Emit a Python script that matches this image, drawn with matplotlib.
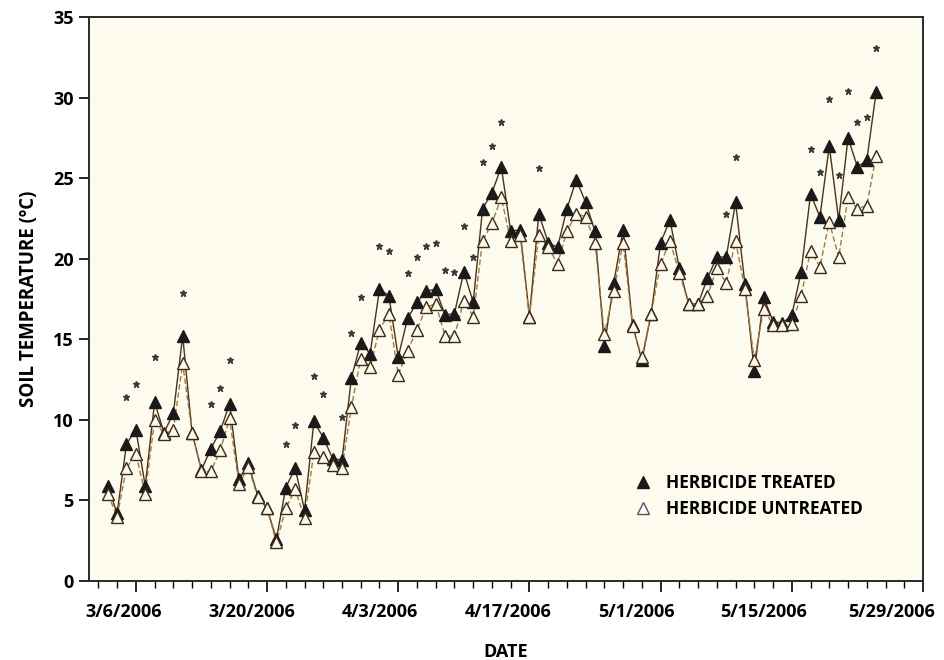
import matplotlib
matplotlib.use('Agg')
import matplotlib.pyplot as plt
import matplotlib.dates as mdates
from matplotlib.lines import Line2D
import numpy as np
import pandas as pd

plt.rcParams['font.family'] = ['Open Sans', 'DejaVu Sans']
plt.rcParams['font.weight'] = 'bold'

###daily soil temperature, 3/3/2006 - 5/24/2006###
dates = pd.date_range('2006-03-03', '2006-05-24', freq='D')

treated = [5.9, 4.2, 8.5, 9.4, 5.9, 11.1, 9.2, 10.4, 15.2, 9.2, 6.9, 8.2, 9.3, 11.0, 6.3,
           7.3, 5.3, 4.5, 2.6, 5.8, 7.0, 4.4, 9.9, 8.9, 7.6, 7.5, 12.6, 14.8, 14.1,
           18.1, 17.7, 13.9, 16.3, 17.3, 18.0, 18.1, 16.5, 16.6, 19.2, 17.3, 23.1, 24.1, 25.7, 21.7,
           21.8, 16.4, 22.8, 21.0, 20.7, 23.1, 24.9, 23.5, 21.7, 14.6, 18.5, 21.8, 15.9, 13.7, 16.6,
           21.0, 22.4, 19.4, 17.2, 17.2, 18.8, 20.1, 20.1, 23.5, 18.4, 13.05, 17.6, 16.1, 16.0,
           16.5, 19.2, 24.0, 22.6, 27.0, 22.4, 27.5, 25.7, 26.1, 30.35]

untreated = [5.4, 4.0, 7.0, 7.9, 5.4, 10.0, 9.1, 9.4, 13.5, 9.2, 6.8, 6.8, 8.1, 10.1, 6.0,
             7.1, 5.2, 4.5, 2.4, 4.5, 5.7, 3.9, 8.0, 7.7, 7.2, 7.0, 10.8, 13.8, 13.3,
             15.6, 16.6, 12.8, 14.3, 15.6, 17.0, 17.2, 15.2, 15.2, 17.4, 16.4, 21.1, 22.2, 23.8, 21.1,
             21.5, 16.4, 21.5, 20.7, 19.7, 21.7, 22.8, 22.6, 21.0, 15.3, 18.0, 21.0, 15.8, 13.9, 16.6,
             19.7, 21.1, 19.1, 17.2, 17.2, 17.7, 19.4, 18.5, 21.1, 18.1, 13.7, 16.9, 15.9, 15.9,
             15.95, 17.7, 20.5, 19.5, 22.3, 20.1, 23.8, 23.1, 23.3, 26.4]

###asterisks (significant difference) - date and height###
star_dates = pd.to_datetime(['2006-03-05', '2006-03-06', '2006-03-08', '2006-03-11', '2006-03-14',
                             '2006-03-15', '2006-03-16', '2006-03-22', '2006-03-23', '2006-03-25',
                             '2006-03-26', '2006-03-28', '2006-03-29', '2006-03-30', '2006-04-01',
                             '2006-04-02', '2006-04-04', '2006-04-05', '2006-04-06', '2006-04-07',
                             '2006-04-08', '2006-04-09', '2006-04-10', '2006-04-11', '2006-04-12',
                             '2006-04-13', '2006-04-14', '2006-04-18', '2006-05-08', '2006-05-09',
                             '2006-05-17', '2006-05-18', '2006-05-19', '2006-05-20', '2006-05-21',
                             '2006-05-22', '2006-05-23', '2006-05-24'])
star_y = [11.4, 12.2, 13.9, 17.9, 11.0, 12.0, 13.7, 8.5, 9.7, 12.7, 11.6, 10.2, 15.4, 17.6, 20.8,
          20.5, 19.1, 20.1, 20.8, 21.0, 19.3, 19.2, 22.0, 20.1, 26.0, 27.0, 28.5, 25.6, 22.8, 26.3,
          26.8, 25.4, 29.9, 25.2, 30.4, 28.5, 28.8, 33.1]

label_dates = pd.date_range('2006-03-06', '2006-05-29', freq='14D')

fig = plt.figure(figsize=(9.45, 6.6), dpi=100)
ax = fig.add_axes([89/945, 1-581/660, (923-89)/945, (581-17)/660])
ax.set_facecolor('#fdfbee')

###lines and markers###
ax.plot(dates, treated, '-', color='#4a3318', lw=1.0, zorder=2)
ax.plot(dates, untreated, '--', color='#a07a44', lw=1.0, dashes=(4, 2), zorder=2)
ax.plot(dates, treated, '^', ms=8, mfc='#1a1a1a', mec='#1a1a1a', zorder=3)
ax.plot(dates, untreated, '^', ms=8, mfc='#fdf9ea', mec='#3a2a18', mew=1.0, zorder=4)
ax.plot(star_dates, star_y, '*', ms=5, color='#3a3a3a', zorder=5)

ax.set_ylim(0, 35)
ax.set_yticks(np.arange(0, 36, 5))
ax.set_xlim(pd.Timestamp('2006-03-01'), pd.Timestamp('2006-05-29'))
ax.set_xticks(label_dates)
ax.set_xticks(pd.date_range('2006-03-02', '2006-05-29', freq='2D'), minor=True)
ax.tick_params(axis='x', which='major', length=8, width=1.2, labelbottom=False)
ax.tick_params(axis='x', which='minor', length=5, width=1.0)
ax.tick_params(axis='y', length=7, width=1.2, labelsize=13, pad=4)
for s in ax.spines.values():
    s.set_linewidth(1.4)
    s.set_color('#2a2a2a')
ax.set_ylabel('SOIL TEMPERATURE (ºC)', fontsize=13.5, fontweight='bold', labelpad=10)

###date labels sit on their own scale###
ax_lab = ax.twiny()
day = pd.Timedelta(days=1)
ax_lab.set_xlim(label_dates[0] - 3.83*day, label_dates[-1] + 3.39*day)
ax_lab.set_xticks(label_dates)
ax_lab.set_xticklabels([f'{d.month}/{d.day}/{d.year}' for d in label_dates])
ax_lab.xaxis.set_ticks_position('bottom')
ax_lab.xaxis.set_label_position('bottom')
ax_lab.tick_params(axis='x', length=0, labelsize=13, pad=16)
for s in ax_lab.spines.values():
    s.set_visible(False)
ax_lab.set_xlabel('DATE', fontsize=13, fontweight='bold', labelpad=16)

handles = [Line2D([], [], ls='', marker='^', ms=8.5, mfc='#1a1a1a', mec='#1a1a1a'),
           Line2D([], [], ls='', marker='^', ms=8.5, mfc='white', mec='#555555')]
ax.legend(handles, ['HERBICIDE TREATED', 'HERBICIDE UNTREATED'], loc='center left',
          bbox_to_anchor=(0.625, 0.15), frameon=False, fontsize=12.5, handletextpad=0.3,
          labelspacing=0.45)

fig.savefig('out.png', dpi=100)
